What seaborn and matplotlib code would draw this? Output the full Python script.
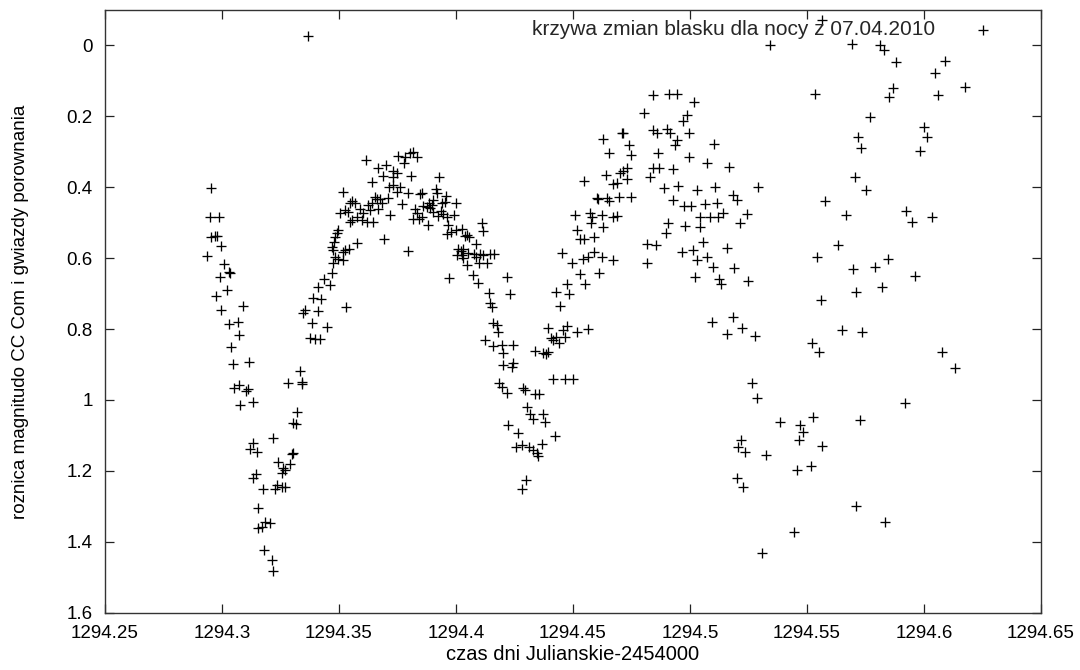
import numpy as np
import pandas as pd
import matplotlib
matplotlib.use("Agg")
import matplotlib.pyplot as plt
import seaborn as sns
from matplotlib.ticker import FixedLocator, FixedFormatter

# ---------------- data (time = JD-2454000, magnitude difference) ----------------
t_desc1 = [1294.2953, 1294.2947, 1294.2989, 1294.2953, 1294.2971, 1294.2979, 1294.2996, 1294.2936,
           1294.3010, 1294.3030, 1294.3036, 1294.2993, 1294.3021, 1294.2976, 1294.2996, 1294.3090,
           1294.3029, 1294.3067, 1294.3071, 1294.3040, 1294.3046, 1294.3114, 1294.3050, 1294.3071,
           1294.3104, 1294.3110, 1294.3079, 1294.3131, 1294.3131, 1294.3119, 1294.3150, 1294.3133,
           1294.3147, 1294.3176, 1294.3153, 1294.3153, 1294.3171, 1294.3183, 1294.3179]
m_desc1 = [0.401, 0.483, 0.485, 0.541, 0.537, 0.537, 0.566, 0.593,
           0.617, 0.639, 0.641, 0.653, 0.689, 0.707, 0.747, 0.735,
           0.787, 0.779, 0.817, 0.851, 0.899, 0.893, 0.967, 0.959,
           0.974, 0.968, 1.013, 1.007, 1.121, 1.139, 1.147, 1.219,
           1.210, 1.250, 1.306, 1.360, 1.358, 1.343, 1.423]

t_min1 = [1294.3530, 1294.3355, 1294.3410, 1294.3346, 1294.3385, 1294.3449, 1294.3376, 1294.3397,
          1294.3419, 1294.3333, 1294.3282, 1294.3342, 1294.3342, 1294.3321, 1294.3303, 1294.3316,
          1294.3218, 1294.3299, 1294.3303, 1294.3239, 1294.3291, 1294.3261, 1294.3269, 1294.3256,
          1294.3235, 1294.3256, 1294.3269, 1294.3226, 1294.3205, 1294.3214, 1294.3218, 1294.3389,
          1294.3423, 1294.3410, 1294.3436]
m_min1 = [0.738, 0.746, 0.749, 0.755, 0.783, 0.794, 0.825, 0.828,
          0.828, 0.918, 0.952, 0.949, 0.955, 1.034, 1.065, 1.068,
          1.107, 1.152, 1.149, 1.175, 1.181, 1.192, 1.197, 1.206,
          1.240, 1.245, 1.245, 1.251, 1.347, 1.451, 1.482, 0.712,
          0.715, 0.681, 0.659]

t_top = [1294.3368, 1294.3615, 1294.3752, 1294.3782, 1294.3803, 1294.3816, 1294.3833, 1294.3778,
         1294.3667, 1294.3701, 1294.3731, 1294.3748, 1294.3688, 1294.3731, 1294.3808, 1294.3927]
m_top = [-0.027, 0.323, 0.312, 0.315, 0.303, 0.300, 0.315, 0.332,
         0.346, 0.337, 0.354, 0.360, 0.368, 0.371, 0.368, 0.371]

t_max1 = [1294.3641, 1294.3731, 1294.3714, 1294.3761, 1294.3748, 1294.3795, 1294.3846, 1294.3855,
          1294.3915, 1294.3919, 1294.3957, 1294.3517, 1294.3709, 1294.3662, 1294.3675, 1294.3654,
          1294.3556, 1294.3568, 1294.3547, 1294.3641, 1294.3624, 1294.3684, 1294.3769, 1294.4000,
          1294.3885, 1294.3897, 1294.3876, 1294.3859, 1294.3902, 1294.3940, 1294.3953, 1294.3538,
          1294.3504, 1294.3526, 1294.3590, 1294.3603, 1294.3632, 1294.3667, 1294.3718, 1294.3825,
          1294.3833, 1294.3855, 1294.3842, 1294.3816, 1294.3889, 1294.3902, 1294.3936, 1294.3944,
          1294.3923, 1294.3991, 1294.3962, 1294.3577, 1294.3598, 1294.3620, 1294.3645, 1294.3556,
          1294.3547, 1294.3880, 1294.3966, 1294.3979, 1294.3962, 1294.4000, 1294.4026, 1294.4111,
          1294.4115, 1294.4047, 1294.4056, 1294.4038, 1294.3496, 1294.3491, 1294.3483, 1294.3479,
          1294.3692, 1294.3577, 1294.4085, 1294.3470, 1294.3474, 1294.3526, 1294.3543, 1294.3517,
          1294.3795, 1294.4009, 1294.4021, 1294.4030, 1294.4004, 1294.4026, 1294.4030, 1294.4051,
          1294.4077, 1294.4085, 1294.4103, 1294.4115, 1294.4162, 1294.4145, 1294.4098, 1294.4132,
          1294.4047, 1294.3483, 1294.3496, 1294.3517, 1294.3474, 1294.3470, 1294.3462]
m_max1 = [0.385, 0.394, 0.399, 0.399, 0.413, 0.416, 0.419, 0.416,
          0.405, 0.416, 0.425, 0.413, 0.430, 0.433, 0.433, 0.427,
          0.439, 0.445, 0.445, 0.445, 0.450, 0.445, 0.447, 0.445,
          0.445, 0.450, 0.456, 0.453, 0.436, 0.445, 0.442, 0.470,
          0.473, 0.464, 0.461, 0.473, 0.464, 0.461, 0.478, 0.461,
          0.473, 0.484, 0.489, 0.489, 0.458, 0.470, 0.467, 0.475,
          0.481, 0.478, 0.484, 0.484, 0.492, 0.498, 0.498, 0.492,
          0.498, 0.506, 0.506, 0.526, 0.532, 0.520, 0.518, 0.501,
          0.523, 0.535, 0.540, 0.537, 0.520, 0.529, 0.540, 0.554,
          0.546, 0.557, 0.560, 0.568, 0.577, 0.577, 0.574, 0.583,
          0.580, 0.574, 0.580, 0.574, 0.591, 0.591, 0.600, 0.585,
          0.588, 0.597, 0.588, 0.591, 0.588, 0.588, 0.614, 0.614,
          0.619, 0.597, 0.602, 0.605, 0.614, 0.642, 0.676]

t_desc2 = [1294.3970, 1294.4073, 1294.4094, 1294.4218, 1294.4141, 1294.4231, 1294.4145, 1294.4154,
           1294.4158, 1294.4175, 1294.4179, 1294.4124, 1294.4158, 1294.4197, 1294.4244, 1294.4201,
           1294.4201, 1294.4244, 1294.4239, 1294.4184, 1294.4197, 1294.4218, 1294.4286, 1294.4303]
m_desc2 = [0.656, 0.648, 0.670, 0.653, 0.698, 0.701, 0.726, 0.738,
           0.783, 0.788, 0.808, 0.831, 0.848, 0.845, 0.845, 0.867,
           0.901, 0.896, 0.907, 0.952, 0.963, 0.980, 0.966, 1.020]

t_min2 = [1294.4453, 1294.4427, 1294.4474, 1294.4483, 1294.4444, 1294.4393, 1294.4406, 1294.4427,
          1294.4415, 1294.4440, 1294.4457, 1294.4474, 1294.4466, 1294.4517, 1294.4564, 1294.4338,
          1294.4372, 1294.4393, 1294.4385, 1294.4415, 1294.4466, 1294.4500, 1294.4295, 1294.4338,
          1294.4355, 1294.4316, 1294.4329, 1294.4372, 1294.4380, 1294.4222, 1294.4265, 1294.4423,
          1294.4256, 1294.4282, 1294.4312, 1294.4329, 1294.4346, 1294.4350, 1294.4368, 1294.4299,
          1294.4282]
m_min2 = [0.585, 0.695, 0.673, 0.701, 0.735, 0.797, 0.825, 0.822,
          0.831, 0.839, 0.803, 0.791, 0.822, 0.808, 0.800, 0.862,
          0.867, 0.864, 0.870, 0.941, 0.941, 0.941, 0.972, 0.983,
          0.983, 1.039, 1.054, 1.039, 1.062, 1.071, 1.093, 1.102,
          1.133, 1.127, 1.133, 1.141, 1.150, 1.158, 1.124, 1.226,
          1.251]

t_rise2 = [1294.4842, 1294.4910, 1294.4944, 1294.5017, 1294.4803, 1294.4987, 1294.4970, 1294.4709,
           1294.4714, 1294.4628, 1294.4842, 1294.4859, 1294.4902, 1294.4915, 1294.4996, 1294.4944,
           1294.4936, 1294.5103, 1294.4739, 1294.4654, 1294.4748, 1294.4863, 1294.4996, 1294.5073,
           1294.5167, 1294.4731, 1294.4714, 1294.4701, 1294.4842, 1294.4868, 1294.4927, 1294.4829,
           1294.4641, 1294.4731, 1294.4688, 1294.4671, 1294.4547, 1294.4889, 1294.4949, 1294.5030,
           1294.5107, 1294.5291, 1294.5184, 1294.5201, 1294.4603, 1294.4607, 1294.4645, 1294.4697,
           1294.4748, 1294.4654, 1294.4927, 1294.4974, 1294.5004, 1294.5064, 1294.5115, 1294.4509,
           1294.4573, 1294.4581, 1294.4624, 1294.4671, 1294.4688, 1294.5043, 1294.5085, 1294.5120,
           1294.5141, 1294.5244, 1294.5214, 1294.4577, 1294.4628, 1294.4906, 1294.4897, 1294.4979,
           1294.5043, 1294.4517, 1294.4530, 1294.4547, 1294.4590, 1294.5056, 1294.4816, 1294.4855,
           1294.5158, 1294.4966, 1294.5013, 1294.5030, 1294.5073, 1294.4590, 1294.4543, 1294.4564,
           1294.4624, 1294.4671, 1294.4496, 1294.4816, 1294.5098, 1294.5188, 1294.4530, 1294.4611,
           1294.4551, 1294.5021, 1294.5124, 1294.5133, 1294.5248, 1294.5094, 1294.5184, 1294.5158,
           1294.5222, 1294.5278]
m_rise2 = [0.140, 0.137, 0.137, 0.159, 0.190, 0.196, 0.213, 0.247,
           0.247, 0.264, 0.238, 0.247, 0.236, 0.247, 0.247, 0.267,
           0.281, 0.278, 0.281, 0.303, 0.309, 0.303, 0.315, 0.332,
           0.343, 0.346, 0.354, 0.360, 0.346, 0.346, 0.348, 0.371,
           0.365, 0.377, 0.388, 0.391, 0.382, 0.402, 0.396, 0.408,
           0.399, 0.399, 0.422, 0.436, 0.430, 0.433, 0.430, 0.427,
           0.427, 0.439, 0.436, 0.453, 0.453, 0.447, 0.445, 0.478,
           0.473, 0.484, 0.478, 0.484, 0.481, 0.484, 0.484, 0.484,
           0.473, 0.475, 0.501, 0.501, 0.512, 0.501, 0.529, 0.509,
           0.512, 0.520, 0.546, 0.546, 0.540, 0.554, 0.560, 0.563,
           0.571, 0.583, 0.577, 0.605, 0.597, 0.583, 0.602, 0.597,
           0.597, 0.605, 0.614, 0.614, 0.625, 0.628, 0.645, 0.642,
           0.673, 0.653, 0.659, 0.673, 0.664, 0.780, 0.766, 0.814,
           0.797, 0.820]

t_scatter = [1294.5342, 1294.5564, 1294.5534, 1294.5577, 1294.5543, 1294.5560, 1294.5521, 1294.5551,
             1294.5526, 1294.5517, 1294.5564, 1294.5457, 1294.5444, 1294.5470, 1294.5466, 1294.5483,
             1294.5385, 1294.5325, 1294.5308, 1294.5218, 1294.5235, 1294.5205, 1294.5226, 1294.5201,
             1294.5692, 1294.5769, 1294.5718, 1294.5731, 1294.5752, 1294.5667, 1294.5632, 1294.5697,
             1294.5709, 1294.5650, 1294.5735, 1294.5726, 1294.5709, 1294.5791, 1294.5812, 1294.5829,
             1294.5833, 1294.5846, 1294.5850, 1294.5868, 1294.5880, 1294.5919, 1294.5923, 1294.5949,
             1294.5962, 1294.5983, 1294.6000, 1294.6013, 1294.6034, 1294.6047, 1294.6060, 1294.6077,
             1294.6090, 1294.6132, 1294.6175, 1294.5820, 1294.5705, 1294.5265, 1294.5286]
m_scatter = [0.000, -0.072, 0.137, 0.439, 0.597, 0.718, 0.839, 0.865,
             1.048, 1.186, 1.130, 1.197, 1.372, 1.071, 1.113, 1.090,
             1.062, 1.155, 1.432, 1.113, 1.147, 1.133, 1.245, 1.220,
             -0.004, 0.202, 0.258, 0.289, 0.408, 0.478, 0.563, 0.630,
             0.695, 0.802, 0.808, 1.056, 1.300, 0.625, 0.000, 0.013,
             1.343, 0.602, 0.145, 0.120, 0.047, 1.008, 0.467, 0.498,
             0.650, 0.298, 0.230, 0.258, 0.484, 0.078, 0.140, 0.865,
             0.044, 0.910, 0.117, 0.681, 0.371, 0.952, 0.994]

x_ticks = [1294.25, 1294.3, 1294.35, 1294.4, 1294.45, 1294.5, 1294.55, 1294.6, 1294.65]
x_ticklabels = ["1294.25", "1294.3", "1294.35", "1294.4", "1294.45", "1294.5", "1294.55", "1294.6", "1294.65"]
y_ticks = [0, 0.2, 0.4, 0.6, 0.8, 1.0, 1.2, 1.4, 1.6]
y_ticklabels = ["0", "0.2", "0.4", "0.6", "0.8", "1", "1.2", "1.4", "1.6"]

legend_label = "krzywa zmian blasku dla nocy z 07.04.2010"
x_label = "czas dni Julianskie-2454000"
y_label = "roznica magnitudo CC Com i gwiazdy porownania"

# ---------------- build frame ----------------
t_all = t_desc1 + t_min1 + t_top + t_max1 + t_desc2 + t_min2 + t_rise2 + t_scatter
m_all = m_desc1 + m_min1 + m_top + m_max1 + m_desc2 + m_min2 + m_rise2 + m_scatter
df = pd.DataFrame({"t": t_all, "m": m_all})

# ---------------- style ----------------
sns.set_theme(style="ticks")
plt.rcParams['font.family'] = ['Liberation Sans', 'DejaVu Sans']

fig = plt.figure(figsize=(10.8, 6.7), dpi=100)
fig.patch.set_facecolor("white")
ax = fig.add_axes([105 / 1080, 1 - 612.7 / 670, (1041 - 105) / 1080, (612.7 - 10) / 670])

sns.scatterplot(data=df, x="t", y="m", marker="+", color="black", s=60,
                linewidth=0.95, ax=ax, label=legend_label, legend=False)

ax.set_xlim(1294.25, 1294.65)
ax.set_ylim(1.6, -0.1)

ax.xaxis.set_major_locator(FixedLocator(x_ticks))
ax.xaxis.set_major_formatter(FixedFormatter(x_ticklabels))
ax.yaxis.set_major_locator(FixedLocator(y_ticks))
ax.yaxis.set_major_formatter(FixedFormatter(y_ticklabels))

ax.tick_params(direction="in", length=6.5, width=0.9, top=True, right=True,
               labelsize=13.5, pad=9, colors="#222222", labelcolor="black")
for sp in ax.spines.values():
    sp.set_color("#333333")
    sp.set_linewidth(1.0)

ax.set_xlabel(x_label, fontsize=14.5, labelpad=2, color="black")
ax.set_ylabel(y_label, fontsize=13.5, labelpad=27, color="black")

leg = ax.legend(loc="upper right", bbox_to_anchor=(1 - 37 / 936, 0.983),
                frameon=False, markerfirst=False, fontsize=15,
                borderaxespad=0, borderpad=0, handletextpad=1.3, handlelength=2.0)

fig.savefig("out.png", dpi=100, facecolor="white")
